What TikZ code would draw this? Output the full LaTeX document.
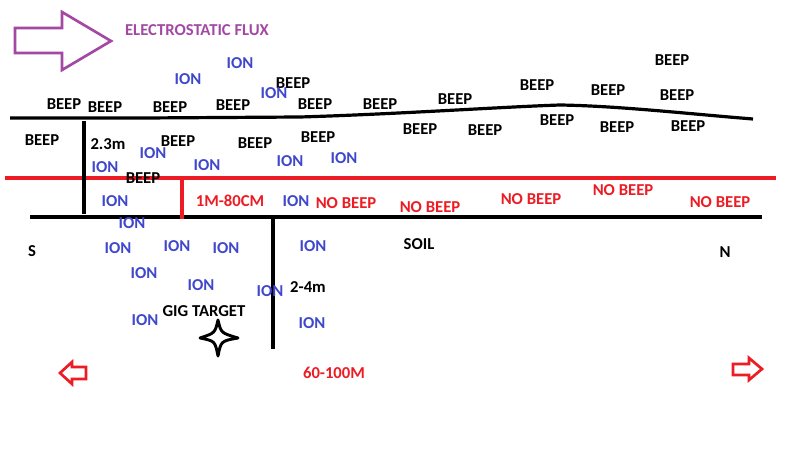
\documentclass[tikz,border=0pt]{standalone}
\usepackage{fontspec}
\setmainfont{Carlito}
\definecolor{ionblue}{RGB}{63,72,204}
\definecolor{pred}{RGB}{237,28,36}
\definecolor{ppurple}{RGB}{163,73,164}
\begin{document}
\begin{tikzpicture}[x=0.75pt,y=-0.75pt,
  lbl/.style={font=\fontsize{12.5}{14}\selectfont\bfseries,inner sep=0pt},
  beep/.style={lbl,text=black},
  ion/.style={lbl,text=ionblue},
  nob/.style={lbl,text=pred},
  thk/.style={line width=2.4pt},
  redthk/.style={line width=2.4pt,pred}]
\fill[white] (0,0) rectangle (800,463);
\useasboundingbox (0,0) rectangle (800,463);
% purple arrow
\draw[ppurple,line width=2pt,line join=miter] (15,28) -- (62,28) -- (62,12) -- (111,41) -- (62,70) -- (62,53) -- (15,53) -- cycle;
\node[lbl,text=ppurple] (flux) at (197,30) {ELECTROSTATIC FLUX};
% ground surface
\coordinate (sL) at (10,118);
\coordinate (sR) at (753,119);
\draw[thk] (sL) -- (145,118) -- (300,117) .. controls (400,114) and (500,107) .. (560,105) .. controls (620,106) and (690,114) .. (sR);
% red line
\coordinate (rL) at (5,178);
\coordinate (rR) at (776,178);
\draw[redthk] (rL) -- (rR);
% black horizon line
\coordinate (hL) at (30,217);
\coordinate (hR) at (762,217);
\draw[thk] (hL) -- (hR);
% verticals
\coordinate (v1a) at (84,121); \coordinate (v1b) at (84,214);
\draw[thk] (v1a) -- (v1b);
\coordinate (v2a) at (182,179); \coordinate (v2b) at (182,219);
\draw[redthk] (v2a) -- (v2b);
\coordinate (v3a) at (273,218); \coordinate (v3b) at (273,349);
\draw[thk] (v3a) -- (v3b);
% BEEP above
\node[beep] (b1) at (64,104) {BEEP};
\node[beep] (b2) at (105,107) {BEEP};
\node[beep] (b3) at (170,107) {BEEP};
\node[beep] (b4) at (233,105) {BEEP};
\node[beep] (b5) at (293,83) {BEEP};
\node[beep] (b6) at (315,104) {BEEP};
\node[beep] (b7) at (380,104) {BEEP};
\node[beep] (b8) at (455,99) {BEEP};
\node[beep] (b9) at (537,85) {BEEP};
\node[beep] (b10) at (608,90) {BEEP};
\node[beep] (b11) at (672,60) {BEEP};
\node[beep] (b12) at (677,95) {BEEP};
% BEEP below surface
\node[beep] (c1) at (42,140) {BEEP};
\node[beep] (c2) at (178,141) {BEEP};
\node[beep] (c3) at (255,143) {BEEP};
\node[beep] (c4) at (318,137) {BEEP};
\node[beep] (c5) at (420,129) {BEEP};
\node[beep] (c6) at (485,130) {BEEP};
\node[beep] (c7) at (557,120) {BEEP};
\node[beep] (c8) at (617,127) {BEEP};
\node[beep] (c9) at (688,126) {BEEP};
\node[beep] (c10) at (143,178) {BEEP};
% ION labels
\node[ion] (i1) at (240,63) {ION};
\node[ion] (i2) at (188,79) {ION};
\node[ion] (i3) at (274,93) {ION};
\node[ion] (i4) at (153,153) {ION};
\node[ion] (i5) at (105,167) {ION};
\node[ion] (i6) at (207,165) {ION};
\node[ion] (i7) at (290,161) {ION};
\node[ion] (i8) at (344,158) {ION};
\node[ion] (i9) at (115,201) {ION};
\node[ion] (i10) at (296,201) {ION};
\node[ion] (i11) at (132,223) {ION};
\node[ion] (i12) at (118,248) {ION};
\node[ion] (i13) at (177,246) {ION};
\node[ion] (i14) at (226,248) {ION};
\node[ion] (i15) at (313,246) {ION};
\node[ion] (i16) at (144,273) {ION};
\node[ion] (i17) at (201,285) {ION};
\node[ion] (i18) at (270,291) {ION};
\node[ion] (i19) at (145,320) {ION};
\node[ion] (i20) at (312,323) {ION};
% NO BEEP
\node[nob] (n1) at (346,203) {NO BEEP};
\node[nob] (n2) at (430,207) {NO BEEP};
\node[nob] (n3) at (531,199) {NO BEEP};
\node[nob] (n4) at (623,190) {NO BEEP};
\node[nob] (n5) at (720,202) {NO BEEP};
\node[nob] (m1) at (230,201) {1M-80CM};
% other labels
\node[beep] (d1) at (108,144) {2.3m};
\node[beep] (d2) at (308,287) {2-4m};
\node[beep] (soil) at (419,244) {SOIL};
\node[beep] (S) at (32,251) {S};
\node[beep] (N) at (725,252) {N};
\node[beep] (gig) at (204,311) {GIG TARGET};
\node[nob] (dist) at (334,373) {60-100M};
% star
\draw[line width=2.2pt,line join=round] (218,320) .. controls (221,333) .. (238,338) .. controls (221,341) .. (218,356) .. controls (215,341) .. (200,338) .. controls (215,333) .. (218,320) -- cycle;
% red arrows
\draw[pred,line width=2pt,line join=miter] (86,367) -- (72,367) -- (72,362) -- (60,373) -- (72,384) -- (72,379) -- (86,379) -- cycle;
\draw[pred,line width=2pt,line join=miter] (733,364) -- (749,364) -- (749,358) -- (762,369) -- (749,380) -- (749,375) -- (733,375) -- cycle;
\end{tikzpicture}
\end{document}
